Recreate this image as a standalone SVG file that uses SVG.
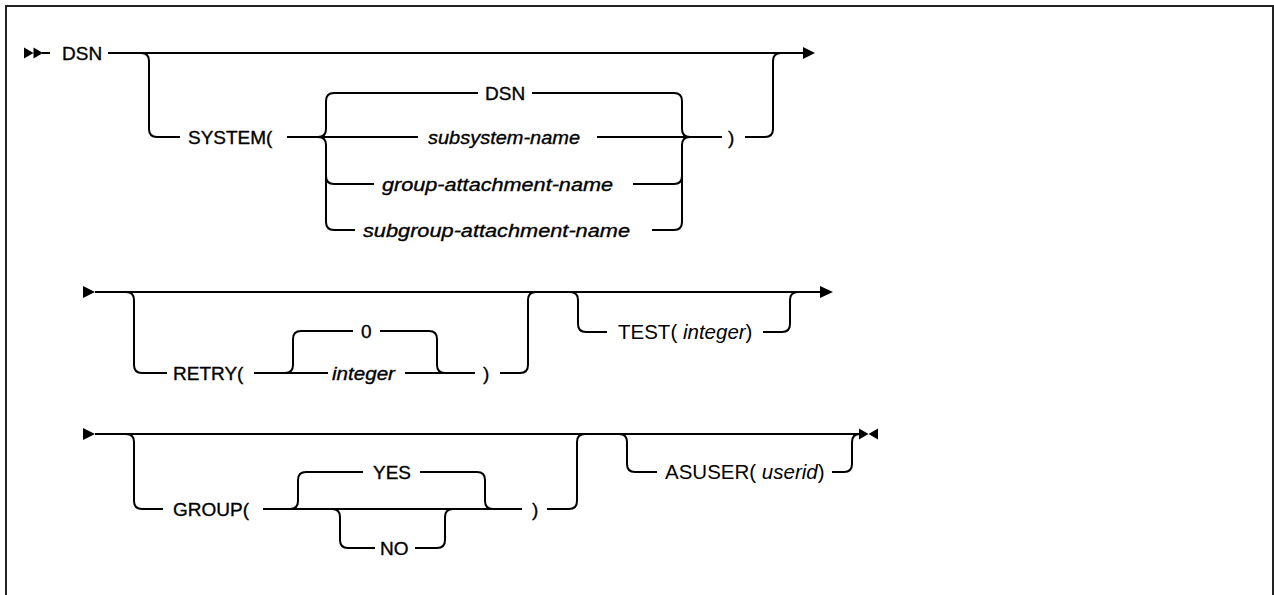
<svg xmlns="http://www.w3.org/2000/svg" width="1274" height="595" viewBox="0 0 1274 595">
<style>
.ln{fill:none;stroke:#000;stroke-width:2}
.ah{fill:#000;stroke:none}
.t{font-family:"Liberation Sans",Arial,sans-serif;font-size:19px;fill:#000;stroke:#000;stroke-width:0.35}
.i{font-style:italic}
.t2{font-family:"Liberation Sans",Arial,sans-serif;font-size:20.5px;fill:#000}
</style>
<rect x="0" y="0" width="1274" height="595" fill="#fff"/>
<rect x="6" y="6" width="1267" height="640" fill="none" stroke="#222" stroke-width="2"/>
<g id="connectors">
  <!-- row 1 -->
  <path class="ah" d="M24 47.5 L33.5 53 L24 58.5 Z M33.5 47.5 L43 53 L33.5 58.5 Z"/>
  <path class="ln" d="M42 53 H50"/>
  <path class="ln" d="M108 53 H804"/>
  <path class="ah" d="M803 47 L815 53 L803 59 Z"/>
  <path class="ln" d="M141 53 Q149 53 149 61 V129 Q149 137 157 137 H180"/>
  <path class="ln" d="M287 137 H418"/>
  <path class="ln" d="M318 137 Q326 137 326 129 V101 Q326 93 334 93 H478"/>
  <path class="ln" d="M318 137 Q326 137 326 145 V222 Q326 230 334 230 H355"/>
  <path class="ln" d="M326 176 Q326 184 334 184 H374"/>
  <path class="ln" d="M532 93 H674 Q682 93 682 101 V129 Q682 137 690 137"/>
  <path class="ln" d="M597 137 H722"/>
  <path class="ln" d="M633 184 H674 Q682 184 682 176"/>
  <path class="ln" d="M652 230 H674 Q682 230 682 222 V145 Q682 137 690 137"/>
  <path class="ln" d="M745 137 H765 Q773 137 773 129 V61 Q773 53 781 53"/>
  <!-- row 2 -->
  <path class="ah" d="M83 286 L95 292 L83 298 Z"/>
  <path class="ln" d="M95 292 H820"/>
  <path class="ah" d="M820 286 L833 292 L820 298 Z"/>
  <path class="ln" d="M126 292 Q134 292 134 300 V365 Q134 373 142 373 H167"/>
  <path class="ln" d="M254 373 H328"/>
  <path class="ln" d="M285 373 Q293 373 293 365 V339 Q293 331 301 331 H353"/>
  <path class="ln" d="M380 331 H429 Q437 331 437 339 V365 Q437 373 445 373"/>
  <path class="ln" d="M405 373 H475"/>
  <path class="ln" d="M500 373 H520 Q528 373 528 365 V300 Q528 292 536 292"/>
  <path class="ln" d="M570 292 Q578 292 578 300 V324 Q578 332 586 332 H607"/>
  <path class="ln" d="M763 332 H782 Q790 332 790 324 V300 Q790 292 798 292"/>
  <!-- row 3 -->
  <path class="ah" d="M83 428 L95 434 L83 440 Z"/>
  <path class="ln" d="M95 434 H861"/>
  <path class="ah" d="M859 428.5 L868.5 434 L859 439.5 Z M878 428.5 L868.5 434 L878 439.5 Z"/>
  <path class="ln" d="M126 434 Q134 434 134 442 V501 Q134 509 142 509 H163"/>
  <path class="ln" d="M263 509 H522"/>
  <path class="ln" d="M290 509 Q298 509 298 501 V480 Q298 472 306 472 H363"/>
  <path class="ln" d="M420 472 H477 Q485 472 485 480 V501 Q485 509 493 509"/>
  <path class="ln" d="M332 509 Q340 509 340 517 V540 Q340 548 348 548 H375"/>
  <path class="ln" d="M415 548 H437 Q445 548 445 540 V517 Q445 509 453 509"/>
  <path class="ln" d="M547 509 H569 Q577 509 577 501 V442 Q577 434 585 434"/>
  <path class="ln" d="M619 434 Q627 434 627 442 V464 Q627 472 635 472 H657"/>
  <path class="ln" d="M832 472 H844 Q852 472 852 464 V442 Q852 434 860 434"/>
</g>
<g id="n-dsn"><text class="t" x="62" y="60">DSN</text></g>
<g id="n-system"><text class="t" x="188" y="144">SYSTEM(</text></g>
<g id="n-dsn-default"><text class="t" x="485" y="100">DSN</text></g>
<g id="n-subsystem"><text class="t i" x="428" y="144" textLength="152" lengthAdjust="spacingAndGlyphs">subsystem-name</text></g>
<g id="n-group-attach"><text class="t i" x="382" y="191" textLength="231" lengthAdjust="spacingAndGlyphs">group-attachment-name</text></g>
<g id="n-subgroup-attach"><text class="t i" x="363" y="237" textLength="267" lengthAdjust="spacingAndGlyphs">subgroup-attachment-name</text></g>
<g id="n-close1"><text class="t" x="728" y="144">)</text></g>
<g id="n-retry"><text class="t" x="173" y="380">RETRY(</text></g>
<g id="n-zero"><text class="t" x="361" y="338">0</text></g>
<g id="n-integer"><text class="t i" x="332" y="380" textLength="63" lengthAdjust="spacingAndGlyphs">integer</text></g>
<g id="n-close2"><text class="t" x="483" y="380">)</text></g>
<g id="n-test"><text class="t2" x="618" y="339">TEST( <tspan font-style="italic">integer</tspan>)</text></g>
<g id="n-group"><text class="t" x="173" y="516">GROUP(</text></g>
<g id="n-yes"><text class="t" x="373" y="479">YES</text></g>
<g id="n-no"><text class="t" x="380" y="555">NO</text></g>
<g id="n-close3"><text class="t" x="532" y="516">)</text></g>
<g id="n-asuser"><text class="t2" x="665" y="479">ASUSER( <tspan font-style="italic">userid</tspan>)</text></g>
</svg>
